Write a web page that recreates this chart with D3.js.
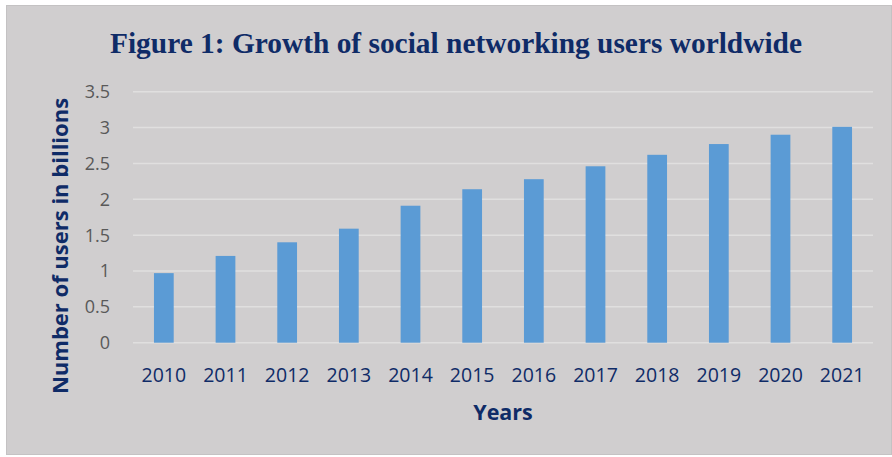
<!DOCTYPE html>
<html>
<head>
<meta charset="utf-8">
<script src="https://cdn.jsdelivr.net/npm/d3@7"></script>
<style>
  body { margin: 0; background: #ffffff; }
  svg { display: block; }
</style>
</head>
<body>
<div class="chart"></div>
<script>
// chart data
const years = ["2010", "2011", "2012", "2013", "2014", "2015", "2016", "2017", "2018", "2019", "2020", "2021"];
const users = [0.97, 1.21, 1.40, 1.59, 1.91, 2.14, 2.28, 2.46, 2.62, 2.77, 2.90, 3.01];
const yTicks = [0, 0.5, 1, 1.5, 2, 2.5, 3, 3.5];

const width = 892;
const height = 457;
const navy = "#0f2b67";

const svg = d3.select('.chart')
  .append('svg')
  .attr('width', width)
  .attr('height', height);

// grey chart area with thin border
svg.append('rect')
  .attr('x', 6.5)
  .attr('y', 5.5)
  .attr('width', width - 7)
  .attr('height', height - 8)
  .style('fill', '#d0cecf')
  .style('stroke', '#c4c2c3')
  .style('stroke-width', 1);

// scales
const x = d3.scaleBand()
  .domain(years)
  .range([133, 873]);

const y = d3.scaleLinear()
  .domain([0, 3.5])
  .range([342.7, 91.7]);

// gridlines
svg.append('g')
  .selectAll('line')
  .data(yTicks)
  .enter()
  .append('line')
  .attr('x1', 133)
  .attr('x2', 873)
  .attr('y1', d => y(d))
  .attr('y2', d => y(d))
  .style('stroke', '#e0dfdf')
  .style('stroke-width', 1.5);

// y tick labels
svg.append('g')
  .selectAll('text')
  .data(yTicks)
  .enter()
  .append('text')
  .attr('x', 110)
  .attr('y', d => y(d) + 6.5)
  .attr('text-anchor', 'end')
  .attr('font-family', 'Open Sans, Liberation Sans, sans-serif')
  .attr('font-size', 18)
  .style('fill', '#595959')
  .text(d => d);

// bars, about a third of each band wide
const barW = x.bandwidth() * 0.32;
svg.append('g')
  .selectAll('rect')
  .data(years)
  .enter()
  .append('rect')
  .attr('x', d => x(d) + (x.bandwidth() - barW) / 2)
  .attr('y', (d, i) => y(users[i]))
  .attr('width', barW)
  .attr('height', (d, i) => y(0) - y(users[i]))
  .style('fill', '#5b9bd5');

// x tick labels
svg.append('g')
  .selectAll('text')
  .data(years)
  .enter()
  .append('text')
  .attr('x', d => x(d) + x.bandwidth() / 2)
  .attr('y', 382)
  .attr('text-anchor', 'middle')
  .attr('font-family', 'Open Sans, Liberation Sans, sans-serif')
  .attr('font-size', 19.5)
  .style('fill', navy)
  .text(d => d);

// title
svg.append('text')
  .attr('x', 456)
  .attr('y', 53)
  .attr('text-anchor', 'middle')
  .attr('font-family', 'Liberation Serif, Times New Roman, serif')
  .attr('font-weight', 'bold')
  .attr('font-size', 30)
  .attr('textLength', 692)
  .attr('lengthAdjust', 'spacingAndGlyphs')
  .style('fill', navy)
  .text('Figure 1: Growth of social networking users worldwide');

// axis titles
svg.append('text')
  .attr('transform', 'translate(68,246) rotate(-90)')
  .attr('text-anchor', 'middle')
  .attr('font-family', 'Open Sans, Liberation Sans, sans-serif')
  .attr('font-weight', 'bold')
  .attr('font-size', 22)
  .style('fill', navy)
  .text('Number of users in billions');

svg.append('text')
  .attr('x', 503)
  .attr('y', 420)
  .attr('text-anchor', 'middle')
  .attr('font-family', 'Open Sans, Liberation Sans, sans-serif')
  .attr('font-weight', 'bold')
  .attr('font-size', 21.5)
  .style('fill', navy)
  .text('Years');
</script>
</body>
</html>
